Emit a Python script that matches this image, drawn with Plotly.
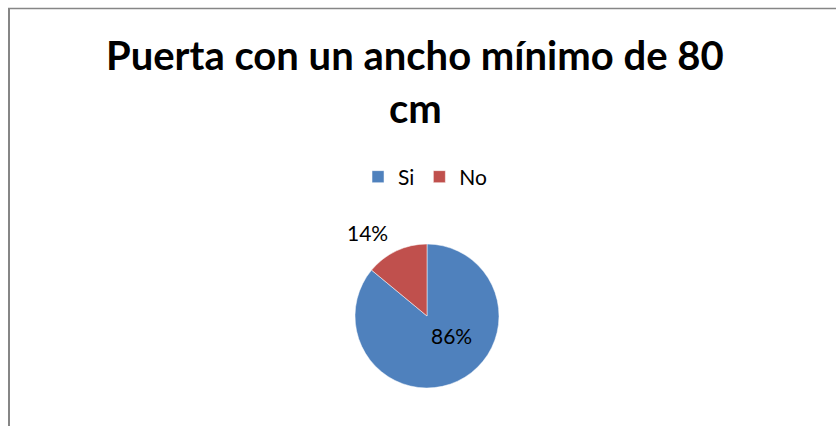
import plotly.graph_objects as go

labels = ["Si", "No"]
values = [86, 14]
colors = ["#4F81BD", "#C0504D"]
title_lines = ["Puerta con un ancho mínimo de 80", "cm"]

W, H = 836, 426
cx, cy, r = 427, 316, 72

fig = go.Figure(go.Pie(
    labels=labels,
    values=values,
    sort=False,
    direction="clockwise",
    rotation=0,
    marker=dict(colors=colors, line=dict(color="white", width=0.5)),
    textinfo="none",
    domain=dict(x=[(cx - r) / W, (cx + r) / W], y=[1 - (cy + r) / H, 1 - (cy - r) / H]),
    hoverinfo="label+percent",
))

annotations = []
for line, ypix in zip(title_lines, [55, 108]):
    annotations.append(dict(text="<b>" + line + "</b>", x=415 / W, xref="paper",
                            y=1 - ypix / H, yref="paper", xanchor="center", yanchor="middle",
                            showarrow=False, font=dict(size=40, family="Lato", color="black")))

total = sum(values)
label_pos = [(451, 335), (367, 232)]
for v, (px, py) in zip(values, label_pos):
    annotations.append(dict(text=f"{round(100 * v / total)}%", x=px / W, xref="paper",
                            y=1 - py / H, yref="paper", xanchor="center", yanchor="middle",
                            showarrow=False, font=dict(size=21, family="Lato", color="black")))

fig.update_layout(
    width=W, height=H,
    margin=dict(l=0, r=0, t=0, b=0),
    paper_bgcolor="white",
    plot_bgcolor="white",
    font=dict(family="Lato", color="black"),
    annotations=annotations,
    showlegend=True,
    legend=dict(orientation="h", x=0.509, xanchor="center", y=1 - 177 / H, yanchor="middle",
                font=dict(size=21, family="Lato", color="black"), itemwidth=30),
    shapes=[
        dict(type="line", xref="paper", yref="paper", x0=9 / W, x1=9 / W, y0=-0.1, y1=1 - 8.5 / H,
             line=dict(color="#868686", width=2)),
        dict(type="line", xref="paper", yref="paper", x0=8 / W, x1=1.1, y0=1 - 8.5 / H, y1=1 - 8.5 / H,
             line=dict(color="#868686", width=1.5)),
    ],
)

fig.write_html("out.html", config={"displayModeBar": False},
               post_script="document.body.style.margin='0';document.body.style.overflow='hidden';")
